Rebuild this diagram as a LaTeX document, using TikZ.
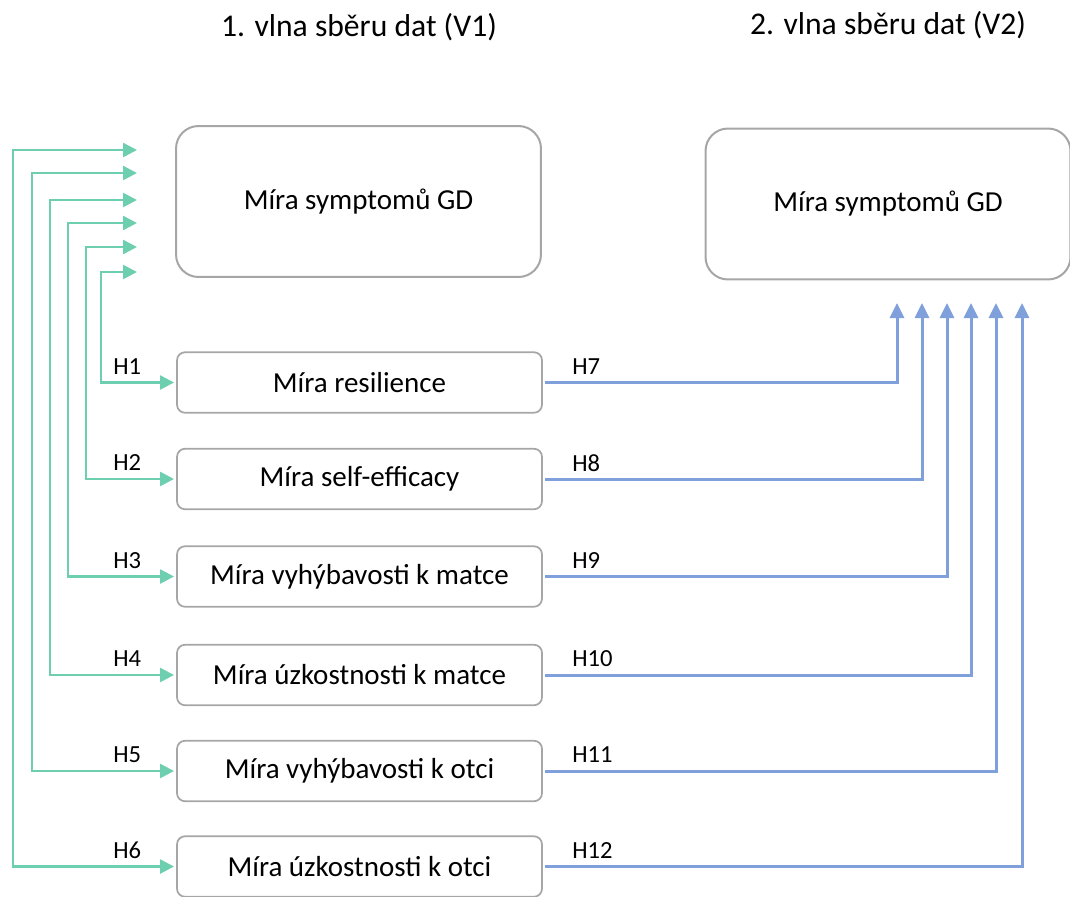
\documentclass[tikz,border=0pt]{standalone}
\usepackage{fontspec}
\setmainfont{Carlito}
\usetikzlibrary{arrows.meta}

\begin{document}
\begin{tikzpicture}[x=0.02cm, y=-0.02cm]

    % style
    \definecolor{mygreen}{RGB}{110, 206, 176}
    \definecolor{myblue}{RGB}{128, 160, 220}
    \definecolor{mygray}{RGB}{166, 166, 166}
    \tikzset{
        gdbox/.style={rectangle, rounded corners=.45cm, draw=mygray, line width=.04cm, minimum width=7.3cm, minimum height=3.02cm, font=\fontsize{16.5}{20}\selectfont},
        varbox/.style={rectangle, rounded corners=.16cm, draw=mygray, line width=.035cm, minimum width=7.3cm, minimum height=1.21cm, outer sep=.06cm, font=\fontsize{16.5}{20}\selectfont},
        wavetitle/.style={font=\fontsize{18}{22}\selectfont},
        hlabel/.style={anchor=west, inner sep=0pt, font=\fontsize{14}{17}\selectfont},
        greenarr/.style={draw=mygreen, line width=.05cm, {Triangle[length=.28cm,width=.28cm]}-{Triangle[length=.28cm,width=.28cm]}},
        bluearr/.style={draw=myblue, line width=.06cm, -{Triangle[length=.3cm,width=.28cm]}}
    }

    % fixed page size
    \useasboundingbox (0,0) rectangle (1070,896);

    % headings of both waves
    \node [wavetitle] (v1) at (359,27) {1. vlna sběru dat (V1)};
    \node [wavetitle] (v2) at (888,25) {2. vlna sběru dat (V2)};

    % GD symptoms in V1 and V2
    \node [gdbox] (gd1) at (358.5,201.5) {Míra symptomů GD};
    \node [gdbox] (gd2) at (888,204) {Míra symptomů GD};

    % predictors, H1-H6 to the left, H7-H12 to the right
    \foreach \i/\y/\vtext/\gx/\gy/\bx [evaluate=\i as \j using int(\i+6)] in {
        1/382.5/Míra resilience/101/272/897,
        2/479/Míra self-efficacy/86/247/922,
        3/576.5/Míra vyhýbavosti k matce/68/223/947,
        4/675/Míra úzkostnosti k matce/50/200/971,
        5/771/Míra vyhýbavosti k otci/32/173/996,
        6/866.5/Míra úzkostnosti k otci/13/150/1022}
    {
        \node [varbox] (var\i) at (359.5,\y) {\vtext};
        \coordinate (gt\i) at (137,\gy); % green arrow end next to V1 box
        \coordinate (bt\i) at (\bx,303); % blue arrow end under V2 box
        \draw [greenarr] (gt\i) -| (\gx,\y) -- (var\i.west);
        \draw [bluearr] (var\i.east) -| (bt\i);
        \node [hlabel] (h\i) at (113,\y-16) {H\i};
        \node [hlabel] (h\j) at (572,\y-16) {H\j};
    }

\end{tikzpicture}
\end{document}
